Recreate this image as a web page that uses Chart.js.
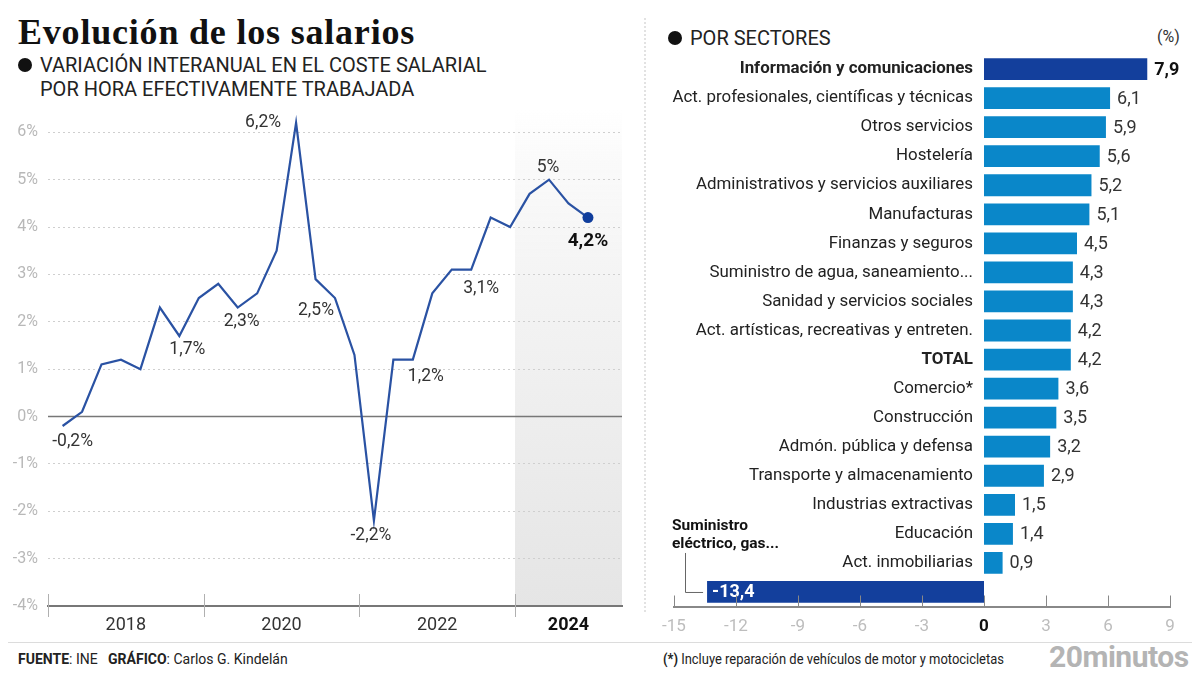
<!DOCTYPE html>
<html>
<head>
<meta charset="utf-8">
<script src="https://cdn.jsdelivr.net/npm/chart.js@4.4.1/dist/chart.umd.min.js"></script>
<style>
  html,body{margin:0;padding:0;background:#fff;}
  body{width:1200px;height:675px;position:relative;overflow:hidden;font-family:Roboto,"Noto Sans",sans-serif;color:#222;}
  .abs{position:absolute;white-space:nowrap;}
  #title{left:18px;top:10px;font-family:"Liberation Serif",serif;font-weight:bold;font-size:36px;line-height:44px;color:#111;letter-spacing:0.8px;}
  .bullet{display:inline-block;width:14px;height:14px;border-radius:50%;background:#111;margin-right:8px;vertical-align:0px;}
  #sub{left:18px;top:53px;font-size:20px;line-height:24px;color:#222;}
  #sub .l2{padding-left:22px;}
  #sect{left:668px;top:26px;font-size:20px;line-height:24px;color:#222;}
  #pct{left:1157px;top:26px;font-size:16px;line-height:22px;color:#333;}
  #sep{left:644px;top:18px;height:594px;border-left:2px dotted #e2e2e2;}
  #foot{left:8px;top:642px;width:1184px;border-top:1px solid #dcdcdc;}
  #src{left:18px;top:649px;font-size:14px;line-height:20px;color:#222;}
  #note{left:663px;top:650px;font-size:14px;line-height:18px;color:#222;transform:scaleX(0.925);transform-origin:left center;}
  #logo{left:1049px;top:640px;font-size:30px;line-height:34px;font-weight:bold;color:#b4b4b4;letter-spacing:-0.5px;}
  canvas{position:absolute;}
</style>
</head>
<body>
<div id="title" class="abs">Evolución de los salarios</div>
<div id="sub" class="abs"><span class="bullet"></span>VARIACIÓN INTERANUAL EN EL COSTE SALARIAL<br><span class="l2">POR HORA EFECTIVAMENTE TRABAJADA</span></div>
<div id="sect" class="abs"><span class="bullet"></span>POR SECTORES</div>
<div id="pct" class="abs">(%)</div>
<div id="sep" class="abs"></div>
<div id="foot" class="abs"></div>
<div id="src" class="abs"><b>FUENTE</b>: INE &nbsp;&nbsp;<b>GRÁFICO</b>: Carlos G. Kindelán</div>
<div id="note" class="abs"><b>(*)</b> Incluye reparación de vehículos de motor y motocicletas</div>
<div id="logo" class="abs">20minutos</div>

<canvas id="lineChart" width="640" height="551" style="left:0;top:89px;width:640px;height:551px;"></canvas>
<canvas id="barChart" width="555" height="600" style="left:645px;top:40px;width:555px;height:600px;"></canvas>

<script>
// ---------- DATA ----------
const quarters = ['2017T2','2017T3','2017T4','2018T1','2018T2','2018T3','2018T4','2019T1','2019T2','2019T3','2019T4','2020T1','2020T2','2020T3','2020T4','2021T1','2021T2','2021T3','2021T4','2022T1','2022T2','2022T3','2022T4','2023T1','2023T2','2023T3','2023T4','2024T1'];
const salaryVariation = [-0.2, 0.1, 1.1, 1.2, 1.0, 2.3, 1.7, 2.5, 2.8, 2.3, 2.6, 3.5, 6.2, 2.9, 2.5, 1.3, -2.2, 1.2, 1.2, 2.6, 3.1, 3.1, 4.2, 4.0, 4.7, 5.0, 4.5, 4.2];
const yearLabels = ['2018', '2020', '2022', '2024'];
const yTickValues = [-4, -3, -2, -1, 0, 1, 2, 3, 4, 5, 6];

const sectors = ['Información y comunicaciones','Act. profesionales, científicas y técnicas','Otros servicios','Hostelería','Administrativos y servicios auxiliares','Manufacturas','Finanzas y seguros','Suministro de agua, saneamiento...','Sanidad y servicios sociales','Act. artísticas, recreativas y entreten.','TOTAL','Comercio*','Construcción','Admón. pública y defensa','Transporte y almacenamiento','Industrias extractivas','Educación','Act. inmobiliarias','Suministro eléctrico, gas...'];
const sectorValues = [7.9, 6.1, 5.9, 5.6, 5.2, 5.1, 4.5, 4.3, 4.3, 4.2, 4.2, 3.6, 3.5, 3.2, 2.9, 1.5, 1.4, 0.9, -13.4];
const barTicks = [-15, -12, -9, -6, -3, 0, 3, 6, 9];

// ---------- HELPERS ----------
const fmt = v => (Number.isInteger(v) ? String(v) : v.toFixed(1)).replace('.', ',');
Chart.defaults.font.family = 'Roboto';
Chart.defaults.animation = false;

// ---------- LINE CHART ----------
const yearBounds = [-0.75, 7.25, 15.25, 23.25]; // axis layout (span edges in quarter units)
const xMax = 28.75;
const yearCenters = yearBounds.map((b, i) => (b + (yearBounds[i + 1] !== undefined ? yearBounds[i + 1] : xMax)) / 2);
const lastIdx = salaryVariation.length - 1;
// label annotation layout: index, dx, dy
const lineLabels = [
  {i: 0, dx: 10, dy: 16}, {i: 6, dx: 8, dy: 14}, {i: 9, dx: 4, dy: 14}, {i: 12, dx: -33, dy: 0},
  {i: 14, dx: -19, dy: 13}, {i: 16, dx: -3, dy: 15}, {i: 18, dx: 13, dy: 17}, {i: 21, dx: 10, dy: 19},
  {i: 25, dx: -1, dy: -12}, {i: lastIdx, dx: 0, dy: 24, bold: true}
];

const linePlugin = {
  id: 'linePlugin',
  beforeDraw(chart) {
    const {ctx, chartArea: a, scales: {x}} = chart;
    const x0 = x.getPixelForValue(yearBounds[3]);
    const g = ctx.createLinearGradient(0, a.top, 0, a.bottom);
    g.addColorStop(0, 'rgba(246,246,246,0)');
    g.addColorStop(0.12, 'rgba(246,246,246,0.6)');
    g.addColorStop(0.3, 'rgba(245,245,245,1)');
    g.addColorStop(1, 'rgba(229,229,229,1)');
    ctx.save();
    ctx.fillStyle = g;
    ctx.fillRect(x0, a.top, a.right - x0, a.bottom - a.top);
    ctx.restore();
  },
  beforeDatasetsDraw(chart) {
    const {ctx, chartArea: a, scales: {x, y}} = chart;
    ctx.save();
    const y0 = y.getPixelForValue(0);
    ctx.strokeStyle = '#777';
    ctx.lineWidth = 1.6;
    ctx.beginPath(); ctx.moveTo(a.left, y0); ctx.lineTo(a.right, y0); ctx.stroke();
    ctx.strokeStyle = '#b0b0b0';
    ctx.lineWidth = 1;
    yearBounds.forEach(b => {
      const px = Math.round(x.getPixelForValue(b)) + 0.5;
      ctx.beginPath(); ctx.moveTo(px, a.bottom - 12); ctx.lineTo(px, a.bottom + 11); ctx.stroke();
    });
    ctx.restore();
  },
  afterDatasetsDraw(chart) {
    const {ctx} = chart;
    const meta = chart.getDatasetMeta(0);
    ctx.save();
    ctx.textAlign = 'center';
    ctx.textBaseline = 'middle';
    lineLabels.forEach(l => {
      const pt = meta.data[l.i];
      ctx.font = (l.bold ? 'bold 19px' : '17.5px') + ' Roboto';
      ctx.fillStyle = l.bold ? '#111' : '#333';
      ctx.fillText(fmt(salaryVariation[l.i]) + '%', pt.x + l.dx, pt.y + l.dy);
    });
    ctx.restore();
  }
};

new Chart(document.getElementById('lineChart'), {
  type: 'line',
  data: {
    labels: quarters,
    datasets: [{
      data: salaryVariation.map((v, i) => ({x: i, y: v})),
      borderColor: '#2a52a3',
      borderWidth: 2.2,
      tension: 0,
      pointRadius: c => c.dataIndex === lastIdx ? 5.5 : 0,
      pointBackgroundColor: '#0f3d9c',
      pointBorderWidth: 0,
      clip: false
    }]
  },
  options: {
    responsive: false,
    layout: {padding: {top: 7, right: 18, left: 0, bottom: 0}},
    plugins: {legend: {display: false}, tooltip: {enabled: false}},
    scales: {
      x: {
        type: 'linear', min: yearBounds[0], max: xMax,
        afterFit: s => { s.height = 34; },
        afterBuildTicks: s => { s.ticks = yearCenters.map(v => ({value: v})); },
        grid: {display: false, drawTicks: false},
        border: {display: true, color: '#777', width: 2},
        ticks: {
          padding: 9, autoSkip: false, maxRotation: 0,
          callback: (v, i) => yearLabels[i],
          color: c => c.index === yearLabels.length - 1 ? '#111' : '#333',
          font: c => ({size: 18, weight: c.index === yearLabels.length - 1 ? 'bold' : 'normal'})
        }
      },
      y: {
        min: -4, max: 6.5,
        afterFit: s => { s.width = 48; },
        afterBuildTicks: s => { s.ticks = yTickValues.map(v => ({value: v})); },
        grid: {color: '#cfcfcf', lineWidth: 1, drawTicks: false},
        border: {display: false, dash: [2, 3]},
        ticks: {padding: 10, color: '#b8b8b8', font: {size: 16}, callback: v => v + '%'}
      }
    }
  },
  plugins: [linePlugin]
});

// ---------- BAR CHART ----------
const darkBlue = '#133f9c', lightBlue = '#0a87c9';
const boldRows = ['Información y comunicaciones', 'TOTAL'];
const barPlugin = {
  id: 'barPlugin',
  afterDatasetsDraw(chart) {
    const {ctx, chartArea: a, scales: {x}} = chart;
    const meta = chart.getDatasetMeta(0);
    const x0 = x.getPixelForValue(0);
    ctx.save();
    ctx.textBaseline = 'middle';
    meta.data.forEach((bar, i) => {
      const v = sectorValues[i];
      const name = sectors[i];
      if (v >= 0) {
        // category label
        ctx.textAlign = 'right';
        ctx.fillStyle = '#222';
        ctx.font = (boldRows.includes(name) ? 'bold ' : '') + '16.9px Roboto';
        ctx.fillText(name, x0 - 11, bar.y);
        // value label
        ctx.textAlign = 'left';
        ctx.font = (i === 0 ? 'bold ' : '') + '18px Roboto';
        ctx.fillStyle = i === 0 ? '#111' : '#333';
        ctx.fillText(fmt(v), bar.x + 7, bar.y + 1);
      } else {
        ctx.textAlign = 'left';
        ctx.font = 'bold 18px Roboto';
        ctx.fillStyle = '#fff';
        ctx.fillText(fmt(v), bar.x + 5, bar.y + 1);
        // annotation with leader line
        const parts = name.split(' ');
        ctx.fillStyle = '#111';
        ctx.font = 'bold 15.5px Roboto';
        ctx.fillText(parts[0], a.left - 2, bar.y - 66);
        ctx.fillText(parts.slice(1).join(' '), a.left - 2, bar.y - 48);
        ctx.strokeStyle = '#666';
        ctx.lineWidth = 1;
        const lx = a.left + 11.5;
        ctx.beginPath();
        ctx.moveTo(lx, bar.y - 39);
        ctx.lineTo(lx, bar.y + 0.5);
        ctx.lineTo(bar.x - 4, bar.y + 0.5);
        ctx.stroke();
      }
    });
    // upward tick marks on the value axis
    ctx.strokeStyle = '#888';
    ctx.lineWidth = 1;
    barTicks.forEach(t => {
      const px = Math.round(x.getPixelForValue(t)) + 0.5;
      ctx.beginPath(); ctx.moveTo(px, a.bottom); ctx.lineTo(px, a.bottom - 11); ctx.stroke();
    });
    ctx.restore();
  }
};

new Chart(document.getElementById('barChart'), {
  type: 'bar',
  data: {
    labels: sectors,
    datasets: [{
      data: sectorValues,
      backgroundColor: sectorValues.map((v, i) => (i === 0 || v < 0) ? darkBlue : lightBlue),
      categoryPercentage: 1,
      barPercentage: 0.75,
      borderWidth: 0
    }]
  },
  options: {
    responsive: false,
    indexAxis: 'y',
    layout: {padding: {top: 14.5, right: 30, left: 29, bottom: 0}},
    plugins: {legend: {display: false}, tooltip: {enabled: false}},
    scales: {
      x: {
        min: -15, max: 9,
        afterFit: s => { s.height = 33.5; },
        afterBuildTicks: s => { s.ticks = barTicks.map(v => ({value: v})); },
        grid: {display: false, drawTicks: false},
        border: {display: true, color: '#888', width: 2},
        ticks: {
          padding: 10,
          color: c => c.tick && c.tick.value === 0 ? '#111' : '#bdbdbd',
          font: c => ({size: 17, weight: c.tick && c.tick.value === 0 ? 'bold' : 'normal'})
        }
      },
      y: {display: false, grid: {display: false}}
    }
  },
  plugins: [barPlugin]
});
</script>
</body>
</html>
